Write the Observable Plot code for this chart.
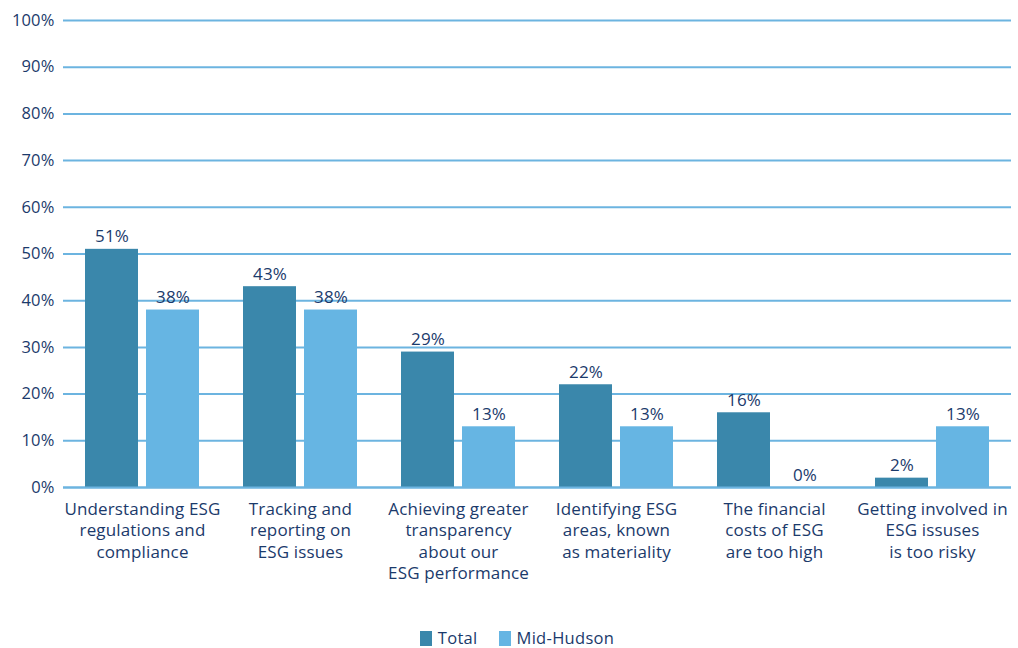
<!DOCTYPE html>
<html><head><meta charset="utf-8">
<script src="https://cdn.jsdelivr.net/npm/d3@7"></script>
<script src="https://cdn.jsdelivr.net/npm/@observablehq/plot@0.6"></script>
<style>
body{margin:0;background:#fff;font-family:"Open Sans",sans-serif;color:#1b3a6b}
#chart{position:relative;width:1018px;height:648px;overflow:hidden}
#chart svg text{letter-spacing:0.15px}
.legend{position:absolute;top:629px;left:0;width:1018px;display:flex;justify-content:center;gap:21px;font-size:16.5px;letter-spacing:0.3px;padding-left:16px;box-sizing:border-box;line-height:18px}
.legend span{display:flex;align-items:center}
.legend i{display:inline-block;width:12px;height:15px;margin-right:6px}
</style>
</head><body>
<div id="chart"></div>
<script>
const categories = [
  "Understanding ESG\nregulations and\ncompliance",
  "Tracking and\nreporting on\nESG issues",
  "Achieving greater\ntransparency\nabout our\nESG performance",
  "Identifying ESG\nareas, known\nas materiality",
  "The financial\ncosts of ESG\nare too high",
  "Getting involved in\nESG issuses\nis too risky"
];
const series = ["Total", "Mid-Hudson"];
const totalValues = [51, 43, 29, 22, 16, 2];
const midHudsonValues = [38, 38, 13, 13, 0, 13];
const yTicks = [0, 10, 20, 30, 40, 50, 60, 70, 80, 90, 100];
const colors = ["#3a87ab", "#66b5e3"];

const rows = [];
categories.forEach((c, i) => {
  rows.push({category: c, series: series[0], value: totalValues[i]});
  rows.push({category: c, series: series[1], value: midHudsonValues[i]});
});

const textColor = "#1b3a6b";
const chart = Plot.plot({
  width: 1018,
  height: 600,
  marginTop: 20,
  marginBottom: 113,
  marginLeft: 62,
  marginRight: 6,
  style: {fontFamily: "'Open Sans', sans-serif", fontSize: "17px", color: textColor, background: "#fff"},
  fx: {domain: categories, padding: 0, label: null},
  x: {domain: series, paddingInner: 0.13, paddingOuter: 0.342, axis: null},
  y: {domain: [0, 100], label: null},
  color: {domain: series, range: colors},
  marks: [
    Plot.gridY(yTicks, {stroke: "#6cb4e0", strokeOpacity: 1, strokeWidth: 2}),
    Plot.axisY(yTicks, {tickSize: 0, tickPadding: 9, tickFormat: d => d + "%", label: null, fill: textColor, fontSize: 16.5}),
    Plot.axisFx({anchor: "bottom", tickSize: 0, tickPadding: 12, lineHeight: 1.26, label: null, fill: textColor, fontSize: 17}),
    Plot.barY(rows, {fx: "category", x: "series", y: "value", fill: "series"}),
    Plot.ruleY([0], {stroke: "#6cb4e0", strokeWidth: 2}),
    Plot.text(rows, {fx: "category", x: "series", y: "value", text: d => d.value + "%", lineAnchor: "bottom", dy: -7, fill: textColor, fontSize: 17})
  ]
});
document.getElementById("chart").appendChild(chart);

const legend = document.createElement("div");
legend.className = "legend";
series.forEach((s, i) => {
  const item = document.createElement("span");
  const sw = document.createElement("i");
  sw.style.background = colors[i];
  item.appendChild(sw);
  item.appendChild(document.createTextNode(s));
  legend.appendChild(item);
});
document.getElementById("chart").appendChild(legend);
</script>
</body></html>
